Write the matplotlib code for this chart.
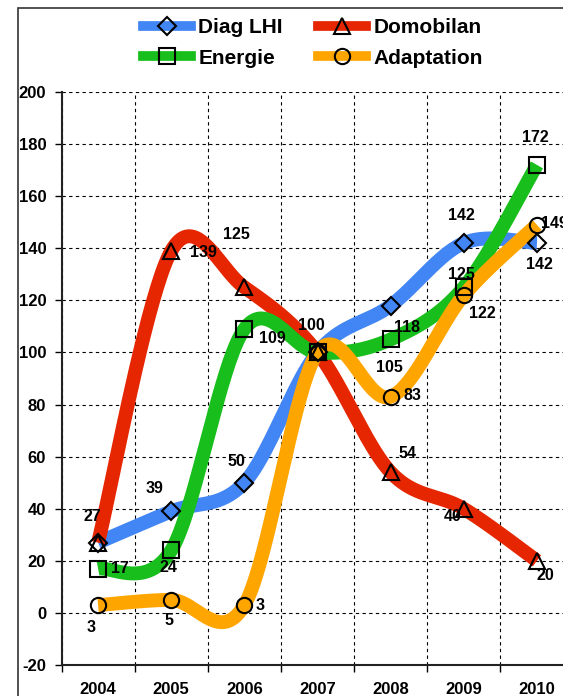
import numpy as np
import matplotlib
matplotlib.use("Agg")
import matplotlib.pyplot as plt
from matplotlib.lines import Line2D
from matplotlib.patches import Rectangle

plt.rcParams['font.family'] = ['Liberation Sans', 'DejaVu Sans']
plt.rcParams['font.weight'] = 'bold'

years = ['2004', '2005', '2006', '2007', '2008', '2009', '2010']
series_names = ['Diag LHI', 'Domobilan', 'Energie', 'Adaptation']
diag_lhi = [27, 39, 50, 100, 118, 142, 142]
domobilan = [27, 139, 125, 100, 54, 40, 20]
energie = [17, 24, 109, 100, 105, 125, 172]
adaptation = [3, 5, 3, 100, 83, 122, 149]
y_ticks = [-20, 0, 20, 40, 60, 80, 100, 120, 140, 160, 180, 200]

colors = ['#4285F4', '#E52600', '#18BE1B', '#FFA500']
markers = ['D', '^', 's', 'o']
msizes = [9.5, 11, 12, 11]

# label offsets in pixels (dx, dy); None = no label
offsets = [
    [(-6, 26), (-17, 23), (-8, 21), (-6, 27), (16, -22), (-2, 28), (3, -21)],
    [None, (32, -2), (-8, 53), None, (17, 19), (-11, -8), (8, -15)],
    [(22, 0), (-3, -17), (28, -9), None, (-1, -28), (-2, 13), (-2, 27)],
    [(-7, -22), (-2, -21), (16, 0), None, (22, 1), (19, -18), (18, 1)],
]

def smooth(vals, n=40):
    pts = np.column_stack([np.arange(len(vals), dtype=float), np.asarray(vals, float)])
    P = np.vstack([pts[0], pts, pts[-1]])
    out = []
    t = np.linspace(0, 1, n)[:, None]
    for i in range(len(pts) - 1):
        p0, p1, p2, p3 = P[i], P[i + 1], P[i + 2], P[i + 3]
        c1 = p1 + (p2 - p0) / 6.0
        c2 = p2 - (p3 - p1) / 6.0
        B = ((1 - t) ** 3) * p1 + 3 * ((1 - t) ** 2) * t * c1 + 3 * (1 - t) * t ** 2 * c2 + t ** 3 * p2
        out.append(B if i == 0 else B[1:])
    B = np.vstack(out)
    return B[:, 0], B[:, 1]

W, H = 563, 696
fig = plt.figure(figsize=(W / 100, H / 100), dpi=100)
fig.patch.set_facecolor('white')

# outer frame
fig.add_artist(Rectangle((18 / W, -0.05), 1.2, 1 - 8 / H + 0.05, transform=fig.transFigure,
                         fill=False, edgecolor='#333333', linewidth=1.2))

left_px, right_px, top_px, bottom_px = 61.5, 573.5, 92, 665
ax = fig.add_axes([left_px / W, 1 - bottom_px / H, (right_px - left_px) / W, (bottom_px - top_px) / H])
ax.set_facecolor('none')

all_series = [diag_lhi, domobilan, energie, adaptation]
x = np.arange(len(years))
for k, vals in enumerate(all_series):
    xs, ys = smooth(vals)
    ax.plot(xs, ys, color=colors[k], linewidth=10, solid_capstyle='butt', zorder=3 + k)
    ax.plot(x, vals, linestyle='none', marker=markers[k], markersize=msizes[k],
            markerfacecolor='none', markeredgecolor='black', markeredgewidth=1.5, zorder=10)
    for i, v in enumerate(vals):
        off = offsets[k][i]
        if off is None:
            continue
        ax.annotate(str(v), (i, v), xytext=off, textcoords='offset pixels',
                    ha='center', va='center', fontsize=11.5, fontweight='bold', zorder=12,
                    annotation_clip=False)

ax.set_xlim(-0.5, 6.5)
ax.set_ylim(-20, 200)
ax.set_yticks(y_ticks)
ax.set_yticklabels([str(v) for v in y_ticks], fontsize=12, fontweight='bold')
ax.set_xticks(x)
ax.set_xticklabels(years, fontsize=12, fontweight='bold')
ax.set_xticks(np.arange(-0.5, 7.0, 1.0), minor=True)
ax.tick_params(axis='x', which='major', length=0, pad=12)
ax.tick_params(axis='x', which='minor', length=5, width=1, direction='out')
ax.tick_params(axis='y', which='major', length=5, width=1, direction='out', pad=6)
ax.grid(True, axis='y', which='major', color='black', linestyle=(0, (3, 3)), linewidth=0.8)
ax.grid(True, axis='x', which='minor', color='black', linestyle=(0, (3, 3)), linewidth=0.8)
ax.set_axisbelow(True)
for s in ['top', 'right']:
    ax.spines[s].set_visible(False)
for s in ['left', 'bottom']:
    ax.spines[s].set_linewidth(1.5)
    ax.spines[s].set_color('#222222')

handles = []
for k in range(4):
    handles.append(Line2D([], [], color=colors[k], linewidth=7, marker=markers[k], markersize=msizes[k],
                          markerfacecolor='none', markeredgecolor='black', markeredgewidth=1.5))
order = [0, 2, 1, 3]
leg = fig.legend([handles[i] for i in order], [series_names[i] for i in order],
                 loc='center', bbox_to_anchor=(313 / W, 1 - 43 / H), ncol=2, frameon=False,
                 prop={'size': 15, 'weight': 'bold'}, handlelength=2.3, handletextpad=0.35,
                 columnspacing=1.7, labelspacing=0.55)

fig.savefig('out.png', dpi=100)
